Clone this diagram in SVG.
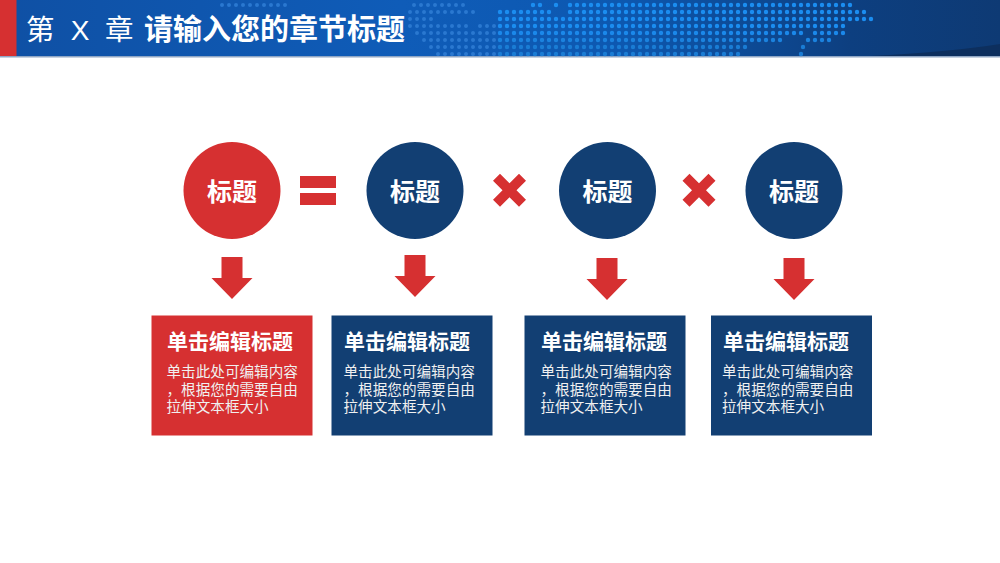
<svg xmlns="http://www.w3.org/2000/svg" width="1000" height="563" viewBox="0 0 1000 563">
<style>
text{font-family:"Liberation Sans","Noto Sans CJK SC",sans-serif;fill:#fff;text-anchor:middle}
.ct{font-size:25px;font-weight:700}
.bt{font-size:21px;font-weight:700;text-anchor:start}
.bd{font-size:14.6px;text-anchor:start;fill:#f0f0f0}
.red{fill:#d63031}.navy{fill:#123f73}
.d{stroke-width:4.4;stroke-linecap:round;stroke-dasharray:0 7;fill:none}
.f{stroke:#2a78d0;stroke-width:4;stroke-linecap:round;stroke-dasharray:0 7;fill:none}
.h{font-size:28.500px;text-anchor:start}
</style>
<defs>
<linearGradient id="bg" x1="0" y1="0" x2="1" y2="0">
<stop offset="0" stop-color="#0f50a4"/><stop offset="0.4" stop-color="#0f5cb8"/><stop offset="0.62" stop-color="#0d58b0"/><stop offset="0.85" stop-color="#0d3f80"/><stop offset="1" stop-color="#0e3a74"/>
</linearGradient>
<path id="arrow" d="M-10.500 0H10.500V21H20.500L0 42L-20.500 21H-10.500Z"/>
<path id="times" d="M-9.500 -16.500L0 -7L9.500 -16.500L16.500 -9.500L7 0L16.500 9.500L9.500 16.500L0 7L-9.500 16.500L-16.500 9.500L-7 0L-16.500 -9.500Z"/>
</defs>
<g id="header">
<rect x="0" y="0" width="1000" height="56" fill="url(#bg)"/>
<path d="M870 56Q950 52 1000 44V56Z" fill="#0d2f5e"/>
<rect x="0" y="56" width="1000" height="1.5" fill="#8fa6c4"/>
<g class="f">
<path d="M222 5H292"/>
<path d="M414 5H466"/><path d="M410 12H474"/><path d="M410 19H432"/><path d="M480 26H500"/>
<path d="M410 26H472"/><path d="M417 33H500"/><path d="M424 40H500"/><path d="M431 47H500"/><path d="M438 54H500"/>
</g>
<g class="d">
<path d="M533 5H543M556 5H558M570 5H857" stroke="#1b8df0"/>
<path d="M500 12H556M570 12H871" stroke="#1b8df0"/>
<path d="M500 19H878" stroke="#1b8df0"/>
<path d="M500 26H850" stroke="#1b8df0"/>
<path d="M500 33H808M815 33H846" stroke="#1b88ea"/>
<path d="M500 40H787M808 40H835" stroke="#1b82de"/>
<path d="M500 47H752M803 47H805" stroke="#1a7cd4"/>
<path d="M500 54H745M801 54H806" stroke="#1a7cd4"/>
</g>
<rect x="0" y="0" width="16.500" height="56" fill="#d63031"/>
<text x="26" y="40" class="h">第</text>
<text x="80" y="40" style="font-size:28px">X</text>
<text x="105" y="40" class="h">章</text>
<text x="144" y="40" style="font-size:29px;font-weight:700;text-anchor:start">请输入您的章节标题</text>
</g>
<g id="connectors">
<path class="red" d="M300 176H336V188H300ZM300 193H336V205H300Z"/>
<use href="#times" x="509.500" y="190.300" class="red"/>
<use href="#times" x="699" y="190.300" class="red"/>
<use href="#arrow" x="232" y="257" class="red"/>
<use href="#arrow" x="415" y="255" class="red"/>
<use href="#arrow" x="607" y="258" class="red"/>
<use href="#arrow" x="794" y="258" class="red"/>
</g>
<g id="circle-1"><circle cx="232" cy="190.500" r="48.500" class="red"/><text x="232" y="201" class="ct">标题</text></g>
<g id="circle-2"><circle cx="415" cy="190.500" r="48.500" class="navy"/><text x="415" y="201" class="ct">标题</text></g>
<g id="circle-3"><circle cx="607.500" cy="190.500" r="48.500" class="navy"/><text x="607.500" y="201" class="ct">标题</text></g>
<g id="circle-4"><circle cx="794" cy="190.500" r="48.500" class="navy"/><text x="794" y="201" class="ct">标题</text></g>
<g id="box-1"><rect x="151.500" y="315.500" width="161" height="120" class="red"/>
<text x="167" y="349" class="bt">单击编辑标题</text>
<text x="166.500" y="376.500" class="bd">单击此处可编辑内容</text><text x="166.500" y="394.500" class="bd">，根据您的需要自由</text><text x="166.500" y="411.500" class="bd">拉伸文本框大小</text></g>
<g id="box-2"><rect x="331.500" y="315.500" width="161" height="120" class="navy"/>
<text x="344" y="349" class="bt">单击编辑标题</text>
<text x="343.500" y="376.500" class="bd">单击此处可编辑内容</text><text x="343.500" y="394.500" class="bd">，根据您的需要自由</text><text x="343.500" y="411.500" class="bd">拉伸文本框大小</text></g>
<g id="box-3"><rect x="524.500" y="315.500" width="161" height="120" class="navy"/>
<text x="541" y="349" class="bt">单击编辑标题</text>
<text x="540.500" y="376.500" class="bd">单击此处可编辑内容</text><text x="540.500" y="394.500" class="bd">，根据您的需要自由</text><text x="540.500" y="411.500" class="bd">拉伸文本框大小</text></g>
<g id="box-4"><rect x="711" y="315.500" width="161" height="120" class="navy"/>
<text x="723" y="349" class="bt">单击编辑标题</text>
<text x="722" y="376.500" class="bd">单击此处可编辑内容</text><text x="722" y="394.500" class="bd">，根据您的需要自由</text><text x="722" y="411.500" class="bd">拉伸文本框大小</text></g>
</svg>
